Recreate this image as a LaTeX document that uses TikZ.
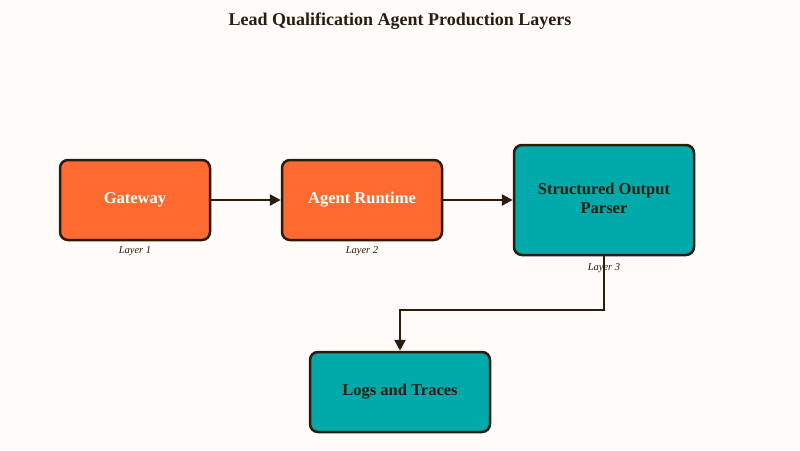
\documentclass[tikz,border=0pt]{standalone}
\usepackage{fontspec}
\setmainfont{Liberation Serif}
\usetikzlibrary{arrows.meta}
\definecolor{bg}{HTML}{FFFBF8}
\definecolor{org}{HTML}{FF6A30}
\definecolor{tea}{HTML}{00AAAA}
\definecolor{brd}{HTML}{2A1C0E}
\begin{document}
\begin{tikzpicture}[x=1pt,y=-1pt,
  box/.style={draw=brd,line width=2.5pt,rounded corners=8pt,font=\bfseries\fontsize{16.5}{20}\selectfont,align=center,inner sep=0pt},
  ob/.style={box,fill=org,text=white,minimum width=150pt,minimum height=80pt},
  tb/.style={box,fill=tea,text=brd},
  lay/.style={font=\itshape\fontsize{10.5}{12}\selectfont,text=brd},
  arr/.style={draw=brd,line width=2.5pt,-{Triangle[length=11pt,width=11pt]}}]
\fill[bg] (0,0) rectangle (800,450);
\useasboundingbox (0,0) rectangle (800,450);
\node[font=\bfseries\fontsize{18}{22}\selectfont,text=brd] (t) at (400,21) {Lead Qualification Agent Production Layers};
\node[ob] (g) at (135,200) {Gateway};
\node[ob,minimum width=160pt] (a) at (362,200) {Agent Runtime};
\node[tb,minimum width=180pt,minimum height=110pt] (s) at (604,200) {\raisebox{4pt}{\begin{tabular}{@{}c@{}}Structured Output\\[-1pt]Parser\end{tabular}}};
\node[tb,minimum width=180pt,minimum height=80pt] (l) at (400,392) {Logs and Traces};
\node[lay] (l1) at (135,251) {Layer 1};
\node[lay] (l2) at (362,251) {Layer 2};
\node[lay] (l3) at (604,268) {Layer 3};
\draw[arr] (g) -- (a);
\draw[arr] (a) -- (s);
\coordinate (k) at (604,310);
\draw[arr] (s.south) -- (k) -| (l.north);
\end{tikzpicture}
\end{document}
